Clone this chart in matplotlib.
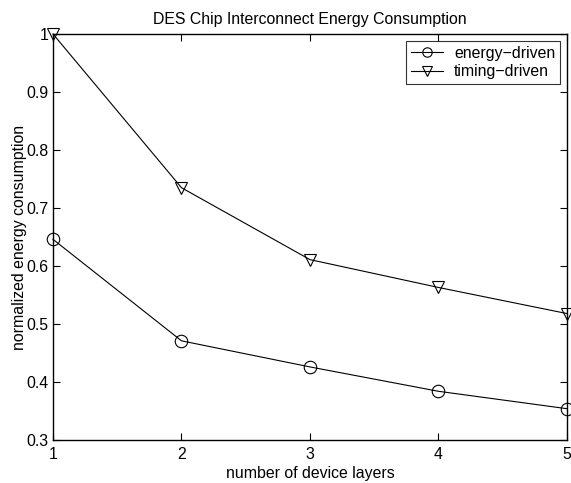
import matplotlib
matplotlib.use("Agg")
import matplotlib.pyplot as plt

plt.rcParams['font.family'] = ['Liberation Sans', 'DejaVu Sans']

layers = [1, 2, 3, 4, 5]
energy_driven = [0.646, 0.471, 0.426, 0.384, 0.354]
timing_driven = [1.0, 0.735, 0.611, 0.563, 0.518]
xticks = [1, 2, 3, 4, 5]
yticks = [0.3, 0.4, 0.5, 0.6, 0.7, 0.8, 0.9, 1.0]
yticklabels = ['0.3', '0.4', '0.5', '0.6', '0.7', '0.8', '0.9', '1']

FS = 11.4

fig = plt.figure(figsize=(5.71, 4.83), dpi=100)
ax = fig.add_axes([0.0928, 0.089, 0.9002, 0.8406])

ax.plot(layers, energy_driven, color='black', lw=0.8, marker='o', ms=9,
        mfc='none', mec='black', mew=0.8, label='energy\u2212driven', clip_on=False)
ax.plot(layers, timing_driven, color='black', lw=0.8, marker='v', ms=9,
        mfc='none', mec='black', mew=0.8, label='timing\u2212driven', clip_on=False)

ax.set_xlim(1, 5)
ax.set_ylim(0.3, 1.0)
ax.set_xticks(xticks)
ax.set_yticks(yticks)
ax.set_yticklabels(yticklabels)
ax.tick_params(direction='in', length=5, width=0.8, top=True, right=True,
               labelsize=FS)
ax.tick_params(axis='x', pad=5)
ax.tick_params(axis='y', pad=3)
for s in ax.spines.values():
    s.set_linewidth(1.0)

ax.set_xlabel('number of device layers', fontsize=FS, labelpad=3)
ax.set_ylabel('normalized energy consumption', fontsize=FS, labelpad=0)
ax.set_title('DES Chip Interconnect Energy Consumption', fontsize=FS, pad=7)

leg = ax.legend(loc='upper right', fontsize=FS, frameon=True, fancybox=False,
                edgecolor='black', borderaxespad=0.45, handlelength=2.0,
                labelspacing=0.2, borderpad=0.3, handletextpad=0.7,
                markerscale=0.75)
leg.get_frame().set_linewidth(0.8)

fig.savefig('out.png', dpi=100)
